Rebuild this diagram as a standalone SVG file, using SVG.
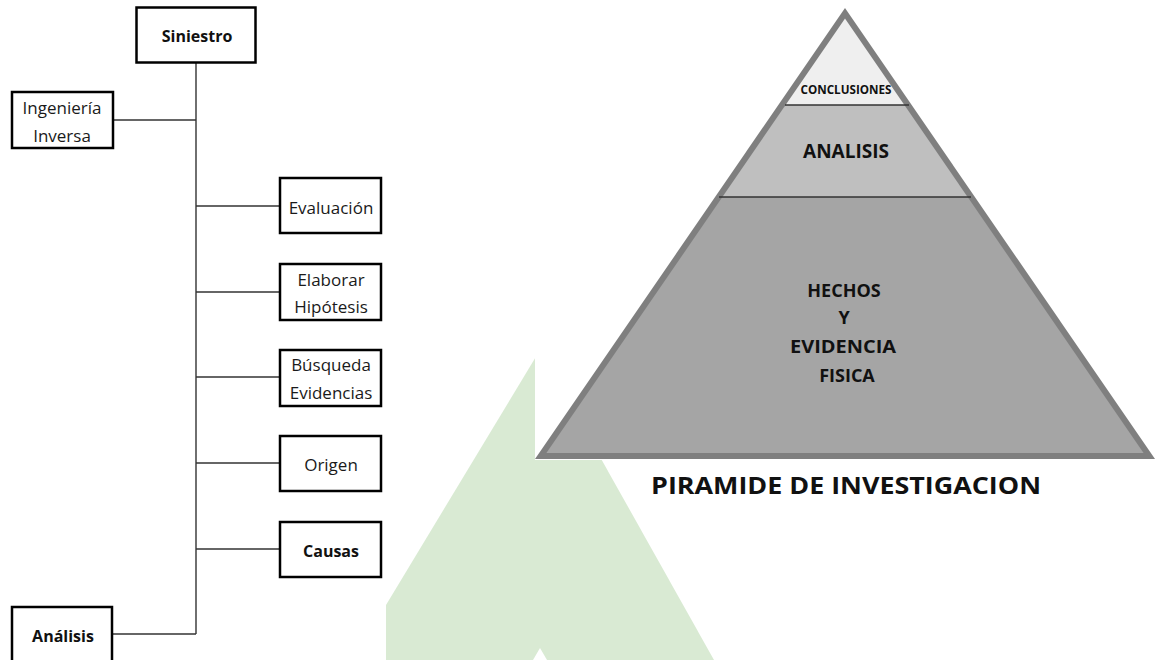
<svg xmlns="http://www.w3.org/2000/svg" width="1155" height="660" viewBox="0 0 1155 660">
  <defs>
    <style>
      .box { fill: #ffffff; stroke: #000000; stroke-width: 2.5; }
      .lbl { font-family: "Open Sans", "Liberation Sans", sans-serif; font-size: 17px; fill: #1a1a1a; text-anchor: middle; }
      .lbl-b { font-family: "Open Sans", "Liberation Sans", sans-serif; font-size: 16px; font-weight: bold; fill: #111111; text-anchor: middle; }
      .conn { stroke: #333333; stroke-width: 1.4; fill: none; }
      .pyr { font-family: "Open Sans", "Liberation Sans", sans-serif; font-weight: bold; fill: #111111; text-anchor: middle; }
      .divider { stroke: #333333; stroke-width: 1.6; }
    </style>
  </defs>

  <rect x="0" y="0" width="1155" height="660" fill="#ffffff"/>

  <!-- pale green watermark letter in the background -->
  <g id="watermark">
    <polygon points="540,350 714,660 386,660 386,605" fill="#d9ead3"/>
    <polygon points="540,648 547,660 533,660" fill="#ffffff"/>
  </g>

  <!-- pyramid panel (white backing) -->
  <rect x="535" y="0" width="620" height="460" fill="#ffffff"/>

  <!-- connectors of the tree -->
  <g id="connectors">
    <line class="conn" x1="196" y1="63" x2="196" y2="634"/>
    <line class="conn" x1="114" y1="120" x2="196" y2="120"/>
    <line class="conn" x1="196" y1="206" x2="279" y2="206"/>
    <line class="conn" x1="196" y1="292" x2="279" y2="292"/>
    <line class="conn" x1="196" y1="377" x2="279" y2="377"/>
    <line class="conn" x1="196" y1="463" x2="279" y2="463"/>
    <line class="conn" x1="196" y1="549" x2="279" y2="549"/>
    <line class="conn" x1="113" y1="634" x2="196" y2="634"/>
  </g>

  <g id="siniestro">
    <rect class="box" x="136.5" y="7.5" width="119" height="55"/>
    <text class="lbl-b" x="197" y="42">Siniestro</text>
  </g>

  <g id="ingenieria-inversa">
    <rect class="box" x="12" y="92" width="101" height="56"/>
    <text class="lbl" x="62" y="114">Ingeniería</text>
    <text class="lbl" x="62" y="142">Inversa</text>
  </g>

  <g id="evaluacion">
    <rect class="box" x="280" y="178" width="101" height="55"/>
    <text class="lbl" x="331" y="214">Evaluación</text>
  </g>

  <g id="elaborar-hipotesis">
    <rect class="box" x="280" y="264" width="101" height="56"/>
    <text class="lbl" x="331" y="286">Elaborar</text>
    <text class="lbl" x="331" y="313">Hipótesis</text>
  </g>

  <g id="busqueda-evidencias">
    <rect class="box" x="280" y="350" width="101" height="56"/>
    <text class="lbl" x="331" y="371">Búsqueda</text>
    <text class="lbl" x="331" y="399">Evidencias</text>
  </g>

  <g id="origen">
    <rect class="box" x="280" y="436" width="101" height="55"/>
    <text class="lbl" x="331" y="471">Origen</text>
  </g>

  <g id="causas">
    <rect class="box" x="280" y="522" width="101" height="55"/>
    <text class="lbl-b" x="331" y="557">Causas</text>
  </g>

  <g id="analisis">
    <rect class="box" x="12" y="607" width="100" height="62"/>
    <text class="lbl-b" x="63" y="642">Análisis</text>
  </g>

  <!-- investigation pyramid -->
  <g id="pyramid">
    <polygon points="845,8 1155,459 535,459" fill="#7f7f7f"/>
    <polygon points="845,18.6 904.4,105 785.6,105" fill="#efefef"/>
    <polygon points="785.6,105 904.4,105 967.6,197 722.4,197" fill="#bfbfbf"/>
    <polygon points="722.4,197 967.6,197 1143.6,453 546.4,453" fill="#a5a5a5"/>
    <line class="divider" x1="785" y1="105" x2="909" y2="105"/>
    <line class="divider" x1="719" y1="197" x2="971" y2="197"/>
    <text class="pyr" x="846" y="94" font-size="12.5" textLength="91" lengthAdjust="spacingAndGlyphs">CONCLUSIONES</text>
    <text class="pyr" x="846" y="158" font-size="19">ANALISIS</text>
    <text class="pyr" x="844" y="297" font-size="18">HECHOS</text>
    <text class="pyr" x="844" y="324" font-size="18">Y</text>
    <text class="pyr" x="843" y="353" font-size="18" textLength="106" lengthAdjust="spacingAndGlyphs">EVIDENCIA</text>
    <text class="pyr" x="847" y="382" font-size="18">FISICA</text>
  </g>

  <g id="pyramid-title">
    <text class="pyr" x="846" y="494" font-size="23" textLength="390" lengthAdjust="spacingAndGlyphs">PIRAMIDE DE INVESTIGACION</text>
  </g>
</svg>
